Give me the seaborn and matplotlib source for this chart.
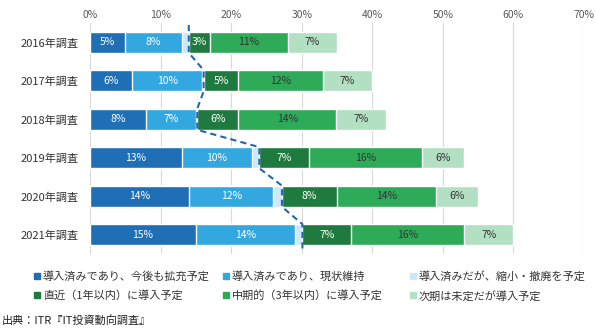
import matplotlib
matplotlib.use("Agg")
import matplotlib.pyplot as plt
import matplotlib.patches as mpatches
import seaborn as sns
import pandas as pd
import numpy as np

# ---- data ----
years = ["2016年調査", "2017年調査", "2018年調査", "2019年調査", "2020年調査", "2021年調査"]
series_names = [
    "導入済みであり、今後も拡充予定",
    "導入済みであり、現状維持",
    "導入済みだが、縮小・撤廃を予定",
    "直近（1年以内）に導入予定",
    "中期的（3年以内）に導入予定",
    "次期は未定だが導入予定",
]
expand   = [5.0, 6.0, 7.9, 13.0, 14.0, 15.0]
maintain = [8.0, 9.9, 7.1, 10.0, 12.0, 14.0]
reduce_  = [1.0, 0.2, 0.2, 1.0, 1.2, 1.1]
within1  = [3.0, 4.9, 5.8, 7.0, 7.8, 6.9]
within3  = [11.0, 12.0, 13.9, 16.0, 14.0, 16.0]
undecided = [7.0, 7.0, 7.1, 6.0, 6.0, 7.0]
xticks = [0, 10, 20, 30, 40, 50, 60, 70]
source = "出典：ITR『IT投資動向調査』"

colors = ["#1f6fb6", "#33a8e0", "#cde8f7", "#1e7a3e", "#2eab59", "#b3dfc3"]
label_colors = ["white", "white", None, "white", "#333333", "#333333"]

sns.set_theme(style="white")
plt.rcParams["font.family"] = ["Noto Sans CJK JP", "DejaVu Sans"]

series = [expand, maintain, reduce_, within1, within3, undecided]
vals = np.array(series)
cum = np.cumsum(vals, axis=0)

fig = plt.figure(figsize=(5.96, 3.33), dpi=100)
ax = fig.add_axes([90 / 596, 1 - 254 / 333, (584 - 90) / 596, (254 - 23) / 333])

# stacked bars: draw cumulative totals from the largest down
for i in range(len(series) - 1, -1, -1):
    df = pd.DataFrame({"year": years, "value": cum[i]})
    sns.barplot(data=df, x="value", y="year", order=years, orient="h",
                color=colors[i], saturation=1, width=0.55, errorbar=None,
                ax=ax, zorder=2)

# segment labels
for i in range(len(series)):
    if label_colors[i] is None:
        continue
    for j in range(len(years)):
        start = cum[i][j] - vals[i][j]
        ax.text(start + vals[i][j] / 2, j, f"{round(vals[i][j])}%",
                ha="center", va="center", fontsize=7.5,
                color=label_colors[i], zorder=4)

# dashed boundary line between "installed" and "planned"
bnd = cum[2]
h = 0.55 / 2
xs, ys = [bnd[0]], [-0.45]
for j in range(len(years)):
    xs += [bnd[j], bnd[j]]
    ys += [j - h, j + h]
xs.append(bnd[-1]); ys.append(len(years) - 1 + 0.45)
ax.plot(xs, ys, linestyle=(0, (3, 2)), color="#2466b0", linewidth=1.5, zorder=5)

ax.set_xlim(0, 70)
ax.set_ylim(len(years) - 0.5, -0.5)
ax.xaxis.tick_top()
ax.set_xticks(xticks)
ax.set_xticklabels([f"{t}%" for t in xticks], fontsize=7.5, color="#595959")
ax.tick_params(axis="x", length=0, pad=2)
ax.tick_params(axis="y", length=0, pad=8, labelsize=8, labelcolor="#333333")
ax.set_xlabel("")
ax.set_ylabel("")
ax.grid(axis="x", color="#d9d9d9", linewidth=0.8, zorder=0)
ax.set_axisbelow(True)
for s in ax.spines.values():
    s.set_visible(False)

# legend in three columns
col_x = [34 / 596, 223 / 596, 410 / 596]
for c in range(3):
    hs = [mpatches.Patch(color=colors[c]), mpatches.Patch(color=colors[c + 3])]
    ls = [series_names[c], series_names[c + 3]]
    fig.legend(hs, ls, loc="upper left", bbox_to_anchor=(col_x[c], 1 - 271 / 333),
               frameon=False, fontsize=8, handlelength=0.5, handleheight=0.5,
               handletextpad=0.3, labelspacing=0.75, borderpad=0, borderaxespad=0,
               labelcolor="#333333")

fig.text(2 / 596, 1 - 320 / 333, source, fontsize=8, va="center", ha="left",
         color="#222222")

fig.savefig("out.png", dpi=100)
